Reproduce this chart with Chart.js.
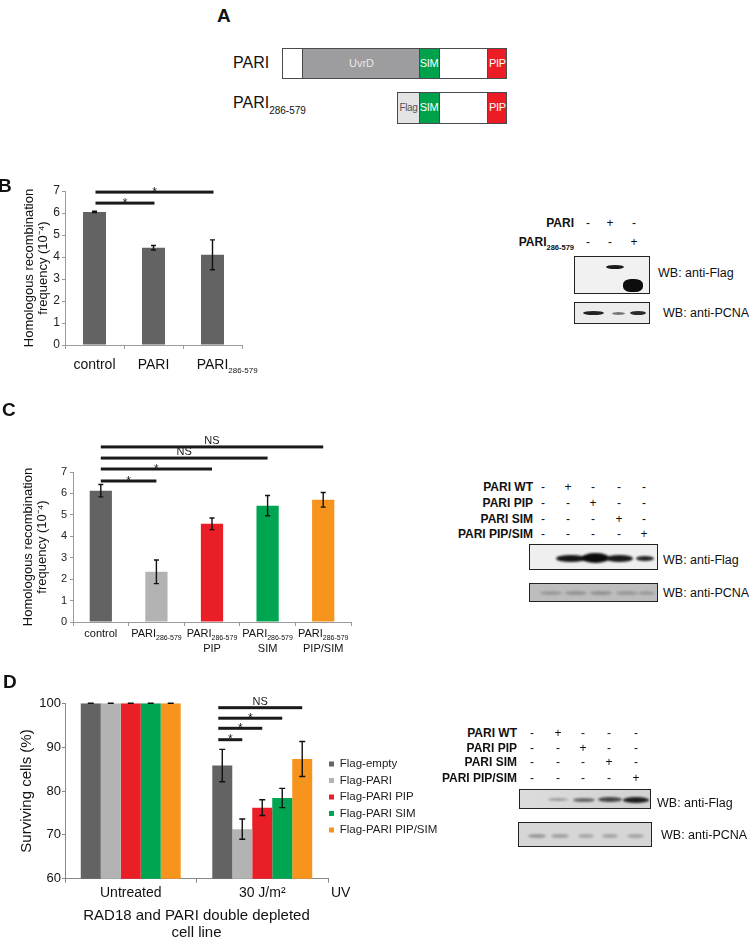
<!DOCTYPE html>
<html><head><meta charset="utf-8">
<script src="https://cdn.jsdelivr.net/npm/chart.js@4.4.1/dist/chart.umd.min.js"></script>
<style>
html,body{margin:0;padding:0;background:#fff}
body{width:749px;height:945px;overflow:hidden;position:relative;font-family:"Liberation Sans",Arial,sans-serif;color:#111}
.abs{position:absolute;white-space:nowrap}
canvas{position:absolute}
.ov{z-index:2}
.plab{font-weight:bold;font-size:19px;line-height:19px}
.seg{position:absolute;top:0;bottom:0;box-sizing:border-box;text-align:center;font-size:11px;line-height:28px;color:#fff;letter-spacing:-0.3px}
.box{position:absolute;box-sizing:border-box;border:1.5px solid #4a4a4a;background:#fff;overflow:hidden}
.bl{font-weight:bold;font-size:12px;line-height:14px;text-align:right}
.sym{font-size:12px;line-height:14px;width:12px;text-align:center;color:#111}
.wb{font-size:12.5px;line-height:14px}
.blot{position:absolute;box-sizing:border-box;border:1.5px solid #222;overflow:hidden}
.band{position:absolute;border-radius:50%}
</style>
</head><body>

<!-- Panel letters -->
<div class="abs plab ov" style="left:217px;top:6px">A</div>
<div class="abs plab ov" style="left:-2px;top:176px">B</div>
<div class="abs plab ov" style="left:2px;top:400px">C</div>
<div class="abs plab ov" style="left:3px;top:672px">D</div>

<!-- Panel A diagram -->
<div class="abs ov" style="left:233px;top:54px;font-size:16px;line-height:18px">PARI</div>
<div class="abs ov" style="left:233px;top:94px;font-size:16px;line-height:18px">PARI<span style="font-size:10px;position:relative;top:6px">286-579</span></div>
<div class="box ov" style="left:282px;top:48px;width:225px;height:31px">
  <div class="seg" style="left:18.5px;width:119px;background:#9d9d9f;border-left:1.5px solid #4a4a4a;color:#e8e8e8;letter-spacing:0">UvrD</div>
  <div class="seg" style="left:135.5px;width:21px;background:#00a14b;border-left:1.5px solid #4a4a4a;border-right:1.5px solid #4a4a4a">SIM</div>
  <div class="seg" style="left:203.5px;width:21px;background:#ec1c24;border-left:1.5px solid #4a4a4a">PIP</div>
</div>
<div class="box ov" style="left:397px;top:92px;width:110px;height:32px">
  <div class="seg" style="left:0;width:21px;background:#e4e4e5;color:#555;font-size:10px;line-height:29px;letter-spacing:-0.4px">Flag</div>
  <div class="seg" style="left:20.5px;width:21px;background:#00a14b;border-left:1.5px solid #4a4a4a;border-right:1.5px solid #4a4a4a">SIM</div>
  <div class="seg" style="left:88.5px;width:21px;background:#ec1c24;border-left:1.5px solid #4a4a4a">PIP</div>
</div>

<!-- Panel B blot -->
<div class="abs bl ov" style="right:175px;top:216px">PARI</div>
<div class="abs bl ov" style="right:175px;top:235px">PARI<span style="font-size:7.5px;position:relative;top:4px">286-579</span></div>
<div id="symB"></div>
<div class="blot ov" style="left:574px;top:256px;width:76px;height:38px;background:#f1f1f1">
  <div class="band" style="left:31px;top:8px;width:18px;height:4px;background:#1a1a1a;filter:blur(0.6px)"></div>
  <div class="band" style="left:48px;top:22px;width:20px;height:13px;background:#0d0d0d;border-radius:40%;filter:blur(0.7px)"></div>
</div>
<div class="abs wb ov" style="left:658px;top:266px">WB: anti-Flag</div>
<div class="blot ov" style="left:574px;top:302px;width:76px;height:22px;background:#ececec">
  <div class="band" style="left:8px;top:8px;width:21px;height:4px;background:#222;filter:blur(0.6px)"></div>
  <div class="band" style="left:37px;top:8.5px;width:13px;height:3px;background:#777;filter:blur(0.6px)"></div>
  <div class="band" style="left:55px;top:8px;width:16px;height:4px;background:#2a2a2a;filter:blur(0.6px)"></div>
</div>
<div class="abs wb ov" style="left:663px;top:306px">WB: anti-PCNA</div>

<!-- Panel C blot -->
<div class="abs bl ov" style="right:216px;top:480px">PARI WT</div>
<div class="abs bl ov" style="right:216px;top:496px">PARI PIP</div>
<div class="abs bl ov" style="right:216px;top:512px">PARI SIM</div>
<div class="abs bl ov" style="right:216px;top:527px">PARI PIP/SIM</div>
<div id="symC"></div>
<div class="blot ov" style="left:529px;top:544px;width:129px;height:26px;background:#efefef">
  <div class="band" style="left:26px;top:10px;width:30px;height:7px;background:#151515;filter:blur(0.8px)"></div>
  <div class="band" style="left:52px;top:8px;width:27px;height:10px;background:#0a0a0a;filter:blur(0.8px)"></div>
  <div class="band" style="left:76px;top:10px;width:27px;height:7px;background:#181818;filter:blur(0.8px)"></div>
  <div class="band" style="left:106px;top:11px;width:18px;height:5px;background:#222;filter:blur(0.8px)"></div>
</div>
<div class="abs wb ov" style="left:663px;top:553px">WB: anti-Flag</div>
<div class="blot ov" style="left:529px;top:583px;width:129px;height:19px;background:#bdbdbd">
  <div class="band" style="left:10px;top:7px;width:22px;height:4px;background:#9a9a9a;filter:blur(1px)"></div>
  <div class="band" style="left:35px;top:7px;width:22px;height:4px;background:#959595;filter:blur(1px)"></div>
  <div class="band" style="left:60px;top:7px;width:22px;height:4px;background:#939393;filter:blur(1px)"></div>
  <div class="band" style="left:86px;top:7px;width:22px;height:4px;background:#9a9a9a;filter:blur(1px)"></div>
  <div class="band" style="left:108px;top:7px;width:17px;height:4px;background:#9c9c9c;filter:blur(1px)"></div>
</div>
<div class="abs wb ov" style="left:663px;top:586px">WB: anti-PCNA</div>

<!-- Panel D blot -->
<div class="abs bl ov" style="right:232px;top:726px">PARI WT</div>
<div class="abs bl ov" style="right:232px;top:741px">PARI PIP</div>
<div class="abs bl ov" style="right:232px;top:755px">PARI SIM</div>
<div class="abs bl ov" style="right:232px;top:771px">PARI PIP/SIM</div>
<div id="symD"></div>
<div class="blot ov" style="left:519px;top:789px;width:132px;height:20px;background:linear-gradient(90deg,#dcdcdc,#d2d2d2)">
  <div class="band" style="left:28px;top:8px;width:20px;height:3px;background:#9a9a9a;filter:blur(0.8px)"></div>
  <div class="band" style="left:53px;top:7.5px;width:22px;height:4px;background:#666;filter:blur(0.8px)"></div>
  <div class="band" style="left:78px;top:7px;width:24px;height:5px;background:#444;filter:blur(0.8px)"></div>
  <div class="band" style="left:103px;top:6.5px;width:26px;height:6px;background:#1c1c1c;filter:blur(0.8px)"></div>
</div>
<div class="abs wb ov" style="left:657px;top:796px">WB: anti-Flag</div>
<div class="blot ov" style="left:518px;top:822px;width:134px;height:25px;background:#d6d6d6">
  <div class="band" style="left:9px;top:11px;width:18px;height:4px;background:#9a9a9a;filter:blur(1px)"></div>
  <div class="band" style="left:32px;top:11px;width:18px;height:4px;background:#a2a2a2;filter:blur(1px)"></div>
  <div class="band" style="left:59px;top:11px;width:16px;height:4px;background:#a8a8a8;filter:blur(1px)"></div>
  <div class="band" style="left:83px;top:11px;width:16px;height:4px;background:#a5a5a5;filter:blur(1px)"></div>
  <div class="band" style="left:108px;top:11px;width:17px;height:4px;background:#a5a5a5;filter:blur(1px)"></div>
</div>
<div class="abs wb ov" style="left:661px;top:828px">WB: anti-PCNA</div>

<canvas id="chartB" width="260" height="210" style="left:0;top:170px"></canvas>
<canvas id="chartC" width="370" height="270" style="left:0;top:390px"></canvas>
<canvas id="chartD" width="450" height="265" style="left:0;top:680px"></canvas>

<script>
// ---------------- DATA ----------------
// Panel B
const bCategories = ['control', 'PARI', 'PARI_286-579'];
const bValues = [6.05, 4.42, 4.10];
const bErrors = [0.03, 0.10, 0.68];

// Panel C
const cCategories = [['control'], ['PARI_286-579'], ['PARI_286-579', 'PIP'], ['PARI_286-579', 'SIM'], ['PARI_286-579', 'PIP/SIM']];
const cValues = [6.13, 2.34, 4.58, 5.43, 5.70];
const cErrors = [0.29, 0.55, 0.27, 0.47, 0.34];

// Panel D
const dGroups = ['Untreated', '30 J/m²'];
const dSeries = ['Flag-empty', 'Flag-PARI', 'Flag-PARI PIP', 'Flag-PARI SIM', 'Flag-PARI PIP/SIM'];
const dFlagEmpty = [100, 85.8];
const dFlagPari = [100, 71.3];
const dFlagPariPip = [100, 76.2];
const dFlagPariSim = [100, 78.4];
const dFlagPariPipSim = [100, 87.3];
const dFlagEmptyErr = [0, 3.7];
const dFlagPariErr = [0, 2.3];
const dFlagPariPipErr = [0, 1.8];
const dFlagPariSimErr = [0, 2.2];
const dFlagPariPipSimErr = [0, 4.0];

// y tick values
const bcYTicks = [0, 1, 2, 3, 4, 5, 6, 7];
const dYTicks = [60, 70, 80, 90, 100];

// blot lane marks
const blotRowsB = [['-','+','-'],['-','-','+']];
const blotRowsC = [['-','+','-','-','-'],['-','-','+','-','-'],['-','-','-','+','-'],['-','-','-','-','+']];
const blotRowsD = blotRowsC;

// ---------------- STYLE ----------------
const FF = '"Liberation Sans", Arial, sans-serif';
Chart.defaults.font.family = FF;
const cColors = ['#636363', '#b3b3b3', '#e91e26', '#00a551', '#f7941d'];
const AX = '#9a9a9a';

// blot symbols
function placeSyms(id, rows, xs, ys){
  const host = document.getElementById(id);
  rows.forEach((r,i)=>r.forEach((s,j)=>{
    const d=document.createElement('div'); d.className='abs sym ov';
    d.style.left=(xs[j]-6)+'px'; d.style.top=(ys[i])+'px'; d.textContent=s; host.appendChild(d);
  }));
}
placeSyms('symB', blotRowsB, [588,610,634], [216,235]);
placeSyms('symC', blotRowsC, [543,568,593,619,644], [480,496,512,527]);
placeSyms('symD', blotRowsD, [532,558,583,609,636], [726,741,755,771]);

// ---------------- PLUGINS ----------------
function errorBarPlugin(cap){
  return {id:'errorBars', afterDatasetsDraw(chart){
    const ctx=chart.ctx, ys=chart.scales.y;
    chart.data.datasets.forEach((ds,i)=>{
      if(!ds.errors) return;
      chart.getDatasetMeta(i).data.forEach((el,j)=>{
        const v=ds.data[j], e=ds.errors[j];
        const t=ys.getPixelForValue(v+e), b=ys.getPixelForValue(v-e);
        ctx.save(); ctx.strokeStyle='#111'; ctx.lineWidth=1.4;
        ctx.beginPath();
        ctx.moveTo(el.x,t); ctx.lineTo(el.x,b);
        ctx.moveTo(el.x-cap,t); ctx.lineTo(el.x+cap,t);
        ctx.moveTo(el.x-cap,b); ctx.lineTo(el.x+cap,b);
        ctx.stroke(); ctx.restore();
      });
    });
  }};
}
function sigPlugin(items, getX){
  return {id:'sig', afterDraw(chart){
    const ctx=chart.ctx, ys=chart.scales.y;
    ctx.save(); ctx.fillStyle='#1a1a1a';
    items.forEach(it=>{
      const [x1,x2]=getX(chart,it);
      const y=ys.getPixelForValue(it.y);
      ctx.fillRect(x1, y-1.5, x2-x1, 3);
      ctx.textAlign='center'; ctx.textBaseline='alphabetic';
      if(it.label==='*'){ ctx.font='12px '+FF; ctx.fillText('*',(x1+x2)/2,y+3.5); }
      else { ctx.font='11px '+FF; ctx.fillText(it.label,(x1+x2)/2,y-3); }
    });
    ctx.restore();
  }};
}
function xLabelPlugin(cfg){
  return {id:'xlab', afterDraw(chart){
    const ctx=chart.ctx, xs=chart.scales.x;
    ctx.save(); ctx.fillStyle='#111'; ctx.textBaseline='alphabetic'; ctx.textAlign='left';
    chart.data.labels.forEach((lab,i)=>{
      const cx=xs.getPixelForValue(i);
      const lines=Array.isArray(lab)?lab:[lab];
      lines.forEach((ln,k)=>{
        const parts=ln.split('_'); const main=parts[0], sub=parts[1];
        ctx.font=cfg.size+'px '+FF; const mw=ctx.measureText(main).width;
        let sw=0; if(sub){ ctx.font=cfg.subSize+'px '+FF; sw=ctx.measureText(sub).width; }
        const x0 = cfg.centerAll ? cx-(mw+sw)/2 : cx-mw/2;
        const by = xs.top + cfg.base + k*cfg.lineGap;
        ctx.font=cfg.size+'px '+FF; ctx.fillText(main,x0,by);
        if(sub){ ctx.font=cfg.subSize+'px '+FF; ctx.fillText(sub,x0+mw,by+cfg.subDrop); }
      });
    });
    ctx.restore();
  }};
}
const legendShift={id:'legendShift', afterLayout(chart){
  const l=chart.legend; if(!l) return;
  l.left-=4; l.right-=4; l.top+=6; l.bottom+=6;
}};
function yScale(min,max,tickVals,tickFont,pad,titleText,titleFont,titleLH,titlePad,width,axColor){
  return {min,max,
    afterBuildTicks(s){ s.ticks = tickVals.map(v=>({value:v})); },
    ticks:{font:{size:tickFont},color:'#222',padding:pad},
    grid:{drawOnChartArea:false,drawTicks:true,tickLength:3,color:axColor},
    border:{color:axColor,width:1},
    title:{display:true,text:titleText,font:{size:titleFont,lineHeight:titleLH},color:'#111',padding:{top:titlePad,bottom:0}},
    afterFit(s){ s.width=width; }
  };
}

// ---------------- CHART B ----------------
new Chart(document.getElementById('chartB'), {
  type:'bar',
  data:{labels:bCategories, datasets:[{data:bValues, errors:bErrors, backgroundColor:'#636363', borderWidth:0, categoryPercentage:0.39, barPercentage:1}]},
  options:{responsive:false, animation:false, devicePixelRatio:1,
    layout:{padding:{top:21,right:18,left:0,bottom:0}},
    plugins:{legend:{display:false},tooltip:{enabled:false}},
    scales:{
      x:{grid:{drawOnChartArea:false,drawTicks:true,tickLength:4,color:AX,offset:true},border:{color:AX,width:1},ticks:{display:false},afterFit(s){s.height=35;}},
      y:yScale(0,7,bcYTicks,12,2,['Homologous recombination','frequency (10⁻⁴)'],13,1.12,21.7,65,AX)
    }},
  plugins:[errorBarPlugin(2.5),
    sigPlugin([{from:0,to:1,y:6.45,label:'*'},{from:0,to:2,y:6.95,label:'*'}],(ch,it)=>[ch.scales.x.getPixelForValue(it.from)+1,ch.scales.x.getPixelForValue(it.to)+1]),
    xLabelPlugin({size:14,subSize:8,subDrop:4,centerAll:false,base:24,lineGap:15})]
});

// ---------------- CHART C ----------------
new Chart(document.getElementById('chartC'), {
  type:'bar',
  data:{labels:cCategories, datasets:[{data:cValues, errors:cErrors, backgroundColor:cColors, borderWidth:0, categoryPercentage:0.40, barPercentage:1}]},
  options:{responsive:false, animation:false, devicePixelRatio:1,
    layout:{padding:{top:82,right:19,left:0,bottom:0}},
    plugins:{legend:{display:false},tooltip:{enabled:false}},
    scales:{
      x:{grid:{drawOnChartArea:false,drawTicks:true,tickLength:4,color:AX,offset:true},border:{color:AX,width:1},ticks:{display:false},afterFit(s){s.height=38;}},
      y:yScale(0,7,bcYTicks,11,3,['Homologous recombination','frequency (10⁻⁴)'],13,1.12,20.7,73,AX)
    }},
  plugins:[errorBarPlugin(2.5),
    sigPlugin([{from:0,to:1,y:6.58,label:'*'},{from:0,to:2,y:7.14,label:'*'},{from:0,to:3,y:7.65,label:'NS'},{from:0,to:4,y:8.17,label:'NS'}],(ch,it)=>[ch.scales.x.getPixelForValue(it.from),ch.scales.x.getPixelForValue(it.to)]),
    xLabelPlugin({size:11,subSize:7,subDrop:3,centerAll:true,base:15,lineGap:15})]
});

// ---------------- CHART D ----------------
const dValues=[dFlagEmpty,dFlagPari,dFlagPariPip,dFlagPariSim,dFlagPariPipSim];
const dErrs=[dFlagEmptyErr,dFlagPariErr,dFlagPariPipErr,dFlagPariSimErr,dFlagPariPipSimErr];
const yD = yScale(60,100,dYTicks,13,1,'Surviving cells (%)',15,1.15,18.4,65,'#888');
yD.ticks.color='#111';
new Chart(document.getElementById('chartD'), {
  type:'bar',
  data:{labels:dGroups, datasets:dSeries.map((name,i)=>({label:name,data:dValues[i],errors:dErrs[i],backgroundColor:cColors[i],borderWidth:0,categoryPercentage:0.76,barPercentage:1}))},
  options:{responsive:false, animation:false, devicePixelRatio:1,
    layout:{padding:{top:23.3,right:5,left:0,bottom:0}},
    plugins:{tooltip:{enabled:false},
      legend:{display:true,position:'right',fullSize:false,maxWidth:117,align:'center',
        labels:{boxWidth:5,boxHeight:5,padding:5,color:'#222',font:{size:11.5}}}},
    scales:{
      x:{grid:{drawOnChartArea:false,drawTicks:true,tickLength:4,color:'#888',offset:true},border:{color:'#888',width:1},
        ticks:{font:{size:14},color:'#111',padding:2},
        title:{display:true,text:['RAD18 and PARI double depleted','cell line'],font:{size:15,lineHeight:1.133},color:'#111',padding:{top:0,bottom:3.5}},
        afterFit(s){s.height=66.3;}},
      y:yD
    }},
  plugins:[legendShift, errorBarPlugin(3),
    sigPlugin([{to:1,y:91.7,label:'*'},{to:2,y:94.3,label:'*'},{to:3,y:96.6,label:'*'},{to:4,y:99.0,label:'NS'}],(ch,it)=>[ch.getDatasetMeta(0).data[1].x-4,ch.getDatasetMeta(it.to).data[1].x]),
    {id:'uv',afterDraw(ch){const c=ch.ctx,xs=ch.scales.x;c.save();c.font='14px '+FF;c.fillStyle='#111';c.textBaseline='middle';c.textAlign='left';c.fillText('UV',xs.right+3,xs.top+4+2+8.4);c.restore();}}]
});
</script>
</body></html>
